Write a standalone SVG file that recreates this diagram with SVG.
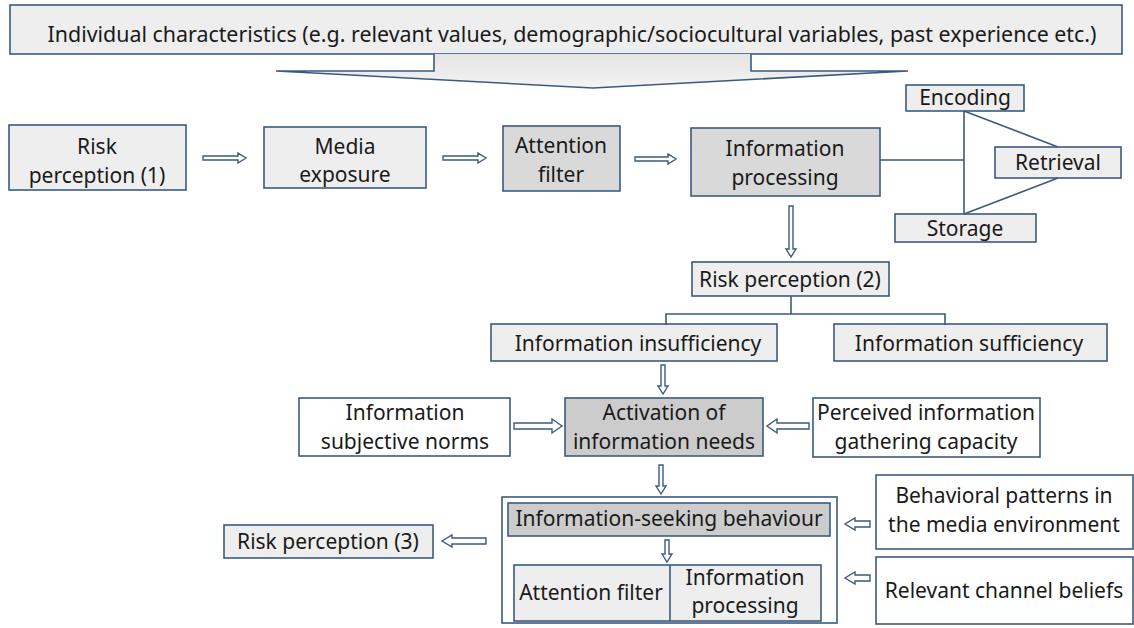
<svg xmlns="http://www.w3.org/2000/svg" width="1134" height="628" viewBox="0 0 1134 628">
<style>
.b{stroke:#3b5a80;stroke-width:1.6}
.l{fill:#eeeeee}
.d{fill:#d9d9d9}
.g{fill:#cccccc}
.w{fill:#ffffff}
text{font-family:"Noto Sans","Open Sans",sans-serif;font-size:21px;fill:#1a1a1a;text-anchor:middle}
text.t{font-size:21.4px}
.c{fill:none;stroke:#3b5a80;stroke-width:1.6}
.a{fill:#ffffff;stroke:#3b5a80;stroke-width:1.4;stroke-linejoin:miter}
</style>
<defs>
<linearGradient id="ag" x1="0" y1="0" x2="0" y2="1">
<stop offset="0" stop-color="#e4e4e4"/><stop offset="1" stop-color="#f4f4f4"/>
</linearGradient>
</defs>
<rect width="1134" height="628" fill="#ffffff"/>
<g id="individual">
<rect class="b l" x="10" y="5" width="1112" height="49"/>
<text class="t" x="572" y="42">Individual characteristics (e.g. relevant values, demographic/sociocultural variables, past experience etc.)</text>
</g>
<g id="bigarrow">
<path d="M434,54 L434,71 L276,71 L593,88 L908,71 L751,71 L751,54" fill="url(#ag)" stroke="#3b5a80" stroke-width="1.6"/>
</g>
<g id="risk1"><rect class="b l" x="9" y="125" width="177" height="65"/><text x="97" y="154">Risk</text><text x="97" y="183">perception (1)</text></g>
<g id="media"><rect class="b l" x="264" y="127" width="162" height="61"/><text x="345" y="154">Media</text><text x="345" y="182">exposure</text></g>
<g id="attention"><rect class="b d" x="503" y="126" width="117" height="65"/><text x="561" y="153">Attention</text><text x="561" y="182">filter</text></g>
<g id="infoproc"><rect class="b d" x="691" y="128" width="189" height="68"/><text x="785" y="156">Information</text><text x="785" y="185">processing</text></g>
<g id="encoding"><rect class="b l" x="906" y="85" width="118" height="26"/><text x="965" y="105">Encoding</text></g>
<g id="retrieval"><rect class="b l" x="995" y="147" width="126" height="31"/><text x="1058" y="170">Retrieval</text></g>
<g id="storage"><rect class="b l" x="895" y="214" width="141" height="28"/><text x="965" y="236">Storage</text></g>
<g id="risk2"><rect class="b l" x="692" y="262" width="197" height="34"/><text x="790" y="287">Risk perception (2)</text></g>
<g id="insuff"><rect class="b l" x="491" y="324" width="286" height="37"/><text x="638" y="351">Information insufficiency</text></g>
<g id="suff"><rect class="b l" x="834" y="324" width="273" height="37"/><text x="969" y="351">Information sufficiency</text></g>
<g id="norms"><rect class="b w" x="299" y="398" width="211" height="58"/><text x="405" y="420">Information</text><text x="405" y="449">subjective norms</text></g>
<g id="activation"><rect class="b g" x="565" y="398" width="198" height="58"/><text x="664" y="420">Activation of</text><text x="664" y="449">information needs</text></g>
<g id="capacity"><rect class="b w" x="813" y="398" width="227" height="59"/><text x="926" y="420">Perceived information</text><text x="926" y="449">gathering capacity</text></g>
<g id="seekgroup">
<rect class="b w" x="502" y="497" width="335" height="126"/>
<g id="seeking"><rect class="b g" x="508" y="503" width="322" height="33"/><text x="669" y="526">Information-seeking behaviour</text></g>
<g id="filterproc"><rect class="b l" x="514" y="565" width="307" height="56"/><line class="c" x1="670" y1="565" x2="670" y2="621"/><text x="591" y="600">Attention filter</text><text x="745" y="585">Information</text><text x="745" y="613">processing</text></g>
</g>
<g id="risk3"><rect class="b l" x="224" y="525" width="209" height="33"/><text x="328" y="549">Risk perception (3)</text></g>
<g id="patterns"><rect class="b w" x="876" y="475" width="257" height="74"/><text x="1004" y="503">Behavioral patterns in</text><text x="1004" y="532">the media  environment</text></g>
<g id="beliefs"><rect class="b w" x="876" y="557" width="257" height="67"/><text x="1004" y="598">Relevant channel beliefs</text></g>
<g id="connectors">
<path class="a" d="M203,156 L238,156 L238,153 L246,158 L238,163 L238,160 L203,160 Z"/>
<path class="a" d="M443,156 L478,156 L478,153 L486,158 L478,163 L478,160 L443,160 Z"/>
<path class="a" d="M635,157 L668,157 L668,154 L676,159 L668,164 L668,161 L635,161 Z"/>
<line class="c" x1="880" y1="160" x2="964" y2="160"/>
<line class="c" x1="964" y1="111" x2="964" y2="214"/>
<line class="c" x1="964" y1="111" x2="1058" y2="147"/>
<line class="c" x1="1058" y1="178" x2="964" y2="214"/>
<path class="a" d="M789,206 L789,249 L786,249 L791,257 L796,249 L793,249 L793,206 Z"/>
<polyline class="c" points="791,296 791,314"/>
<polyline class="c" points="666,325 666,314 945,314 945,325"/>
<path class="a" d="M661,365 L661,386 L658,386 L663,394 L668,386 L665,386 L665,365 Z"/>
<path class="a" d="M514,423 L552,423 L552,419 L562,426 L552,433 L552,429 L514,429 Z"/>
<path class="a" d="M809,423 L777,423 L777,419 L767,426 L777,433 L777,429 L809,429 Z"/>
<path class="a" d="M659,465 L659,486 L656,486 L661,494 L666,486 L663,486 L663,465 Z"/>
<path class="a" d="M665,540 L665,554 L662,554 L667,562 L672,554 L669,554 L669,540 Z"/>
<path class="a" d="M486,538 L452,538 L452,535 L442,541 L452,547 L452,544 L486,544 Z"/>
<path class="a" d="M870,521 L855,521 L855,518 L845,524 L855,530 L855,527 L870,527 Z"/>
<path class="a" d="M870,575 L855,575 L855,572 L845,578 L855,584 L855,581 L870,581 Z"/>
</g>
</svg>
